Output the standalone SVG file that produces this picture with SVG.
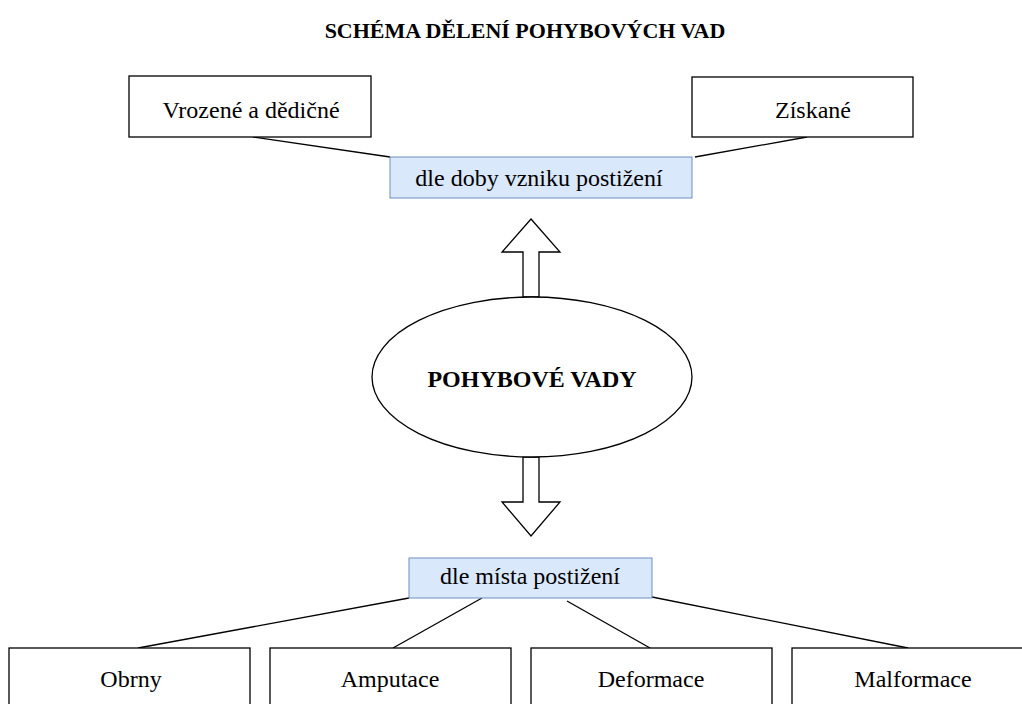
<svg xmlns="http://www.w3.org/2000/svg" width="1022" height="704" viewBox="0 0 1022 704">
<style>
text{font-family:"Liberation Serif","Times New Roman",serif;fill:#000;text-anchor:middle}
.box{fill:#fff;stroke:#000;stroke-width:1.3}
.blue{fill:#dae8fc;stroke:#6c8ebf;stroke-width:1}
.lbl{font-size:24px}
.bold{font-weight:bold}
.conn line{stroke:#000;stroke-width:1.3}
.blk{fill:#fff;stroke:#000;stroke-width:1.3;stroke-linejoin:miter}
</style>
<rect width="1022" height="704" fill="#fff"/>
<text id="title" x="525" y="38" class="bold" font-size="22">SCHÉMA DĚLENÍ POHYBOVÝCH VAD</text>
<g id="connectors" class="conn">
<line x1="253" y1="137" x2="390" y2="157"/>
<line x1="807" y1="137" x2="695" y2="157"/>
<line x1="409" y1="598" x2="138" y2="648"/>
<line x1="482" y1="598" x2="393" y2="648"/>
<line x1="567" y1="601" x2="650" y2="648"/>
<line x1="652" y1="597" x2="908" y2="648"/>
<polygon class="blk" points="531,219 560,252 539,252 539,297 523,297 523,252 502,252"/>
<polygon class="blk" points="523,457 539,457 539,502 560,502 531,536 502,502 523,502"/>
</g>
<g id="vrozene">
<rect class="box" x="129" y="76" width="242" height="61"/>
<text class="lbl" x="251" y="118">Vrozené a dědičné</text>
</g>
<g id="ziskane">
<rect class="box" x="692" y="77" width="221" height="60"/>
<text class="lbl" x="813" y="118">Získané</text>
</g>
<g id="doba">
<rect class="blue" x="390" y="157" width="302" height="41"/>
<text class="lbl" x="539" y="186">dle doby vzniku postižení</text>
</g>
<g id="pohybove">
<ellipse cx="532" cy="377" rx="160" ry="80" fill="#fff" stroke="#000" stroke-width="1.3"/>
<text x="532" y="387" class="bold" font-size="24">POHYBOVÉ VADY</text>
</g>
<g id="misto">
<rect class="blue" x="409" y="558" width="243" height="40"/>
<text class="lbl" x="530" y="584">dle místa postižení</text>
</g>
<g id="obrny">
<rect class="box" x="9" y="648" width="241" height="70"/>
<text class="lbl" x="131" y="687">Obrny</text>
</g>
<g id="amputace">
<rect class="box" x="270" y="648" width="241" height="70"/>
<text class="lbl" x="390" y="687">Amputace</text>
</g>
<g id="deformace">
<rect class="box" x="531" y="648" width="241" height="70"/>
<text class="lbl" x="651" y="687">Deformace</text>
</g>
<g id="malformace">
<rect class="box" x="792" y="648" width="241" height="70"/>
<text class="lbl" x="913" y="687">Malformace</text>
</g>
</svg>
